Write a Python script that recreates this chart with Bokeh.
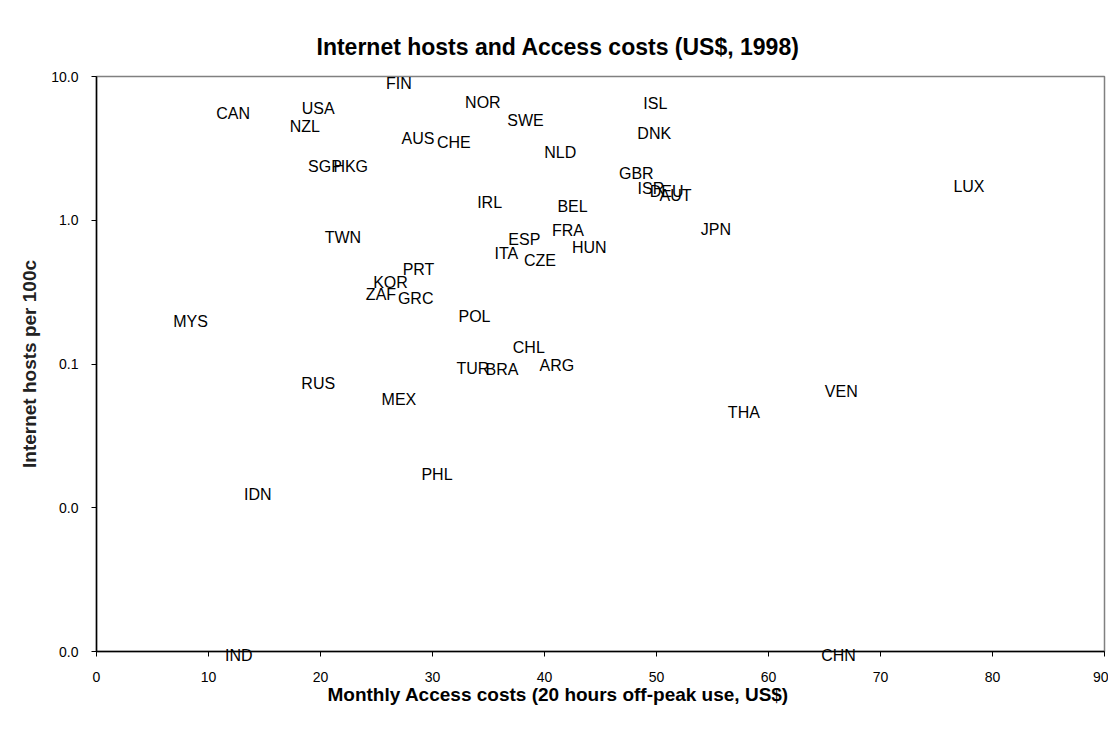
from bokeh.plotting import figure
from bokeh.models import (ColumnDataSource, LabelSet, Range1d, FixedTicker,
                          CustomJSTickFormatter, LinearAxis, LogAxis, Title)
from bokeh.core.properties import value
from bokeh.embed import file_html
from bokeh.resources import INLINE

countries = ["FIN", "CAN", "USA", "NZL", "SGP", "HKG", "AUS", "CHE", "NOR", "SWE",
             "ISL", "DNK", "NLD", "GBR", "ISR", "DEU", "AUT", "LUX", "IRL", "BEL",
             "JPN", "FRA", "HUN", "ESP", "ITA", "CZE", "TWN", "PRT", "KOR", "ZAF",
             "GRC", "MYS", "POL", "CHL", "ARG", "TUR", "BRA", "RUS", "MEX", "VEN",
             "THA", "PHL", "IDN", "IND", "CHN"]
access_cost = [27.0, 12.2, 19.8, 18.6, 20.4, 22.7, 28.7, 31.9, 34.5, 38.3,
               49.9, 49.8, 41.4, 48.2, 49.5, 50.9, 51.7, 77.9, 35.1, 42.5,
               55.3, 42.1, 44.0, 38.2, 36.6, 39.6, 22.0, 28.75, 26.25, 25.4,
               28.5, 8.4, 33.75, 38.6, 41.1, 33.6, 36.2, 19.8, 27.0, 66.5,
               57.8, 30.4, 14.4, 12.7, 66.25]
hosts_per_100 = [8.98, 5.55, 6.0, 4.51, 2.38, 2.38, 3.72, 3.49, 6.62, 4.97,
                 6.52, 4.03, 2.97, 2.12, 1.67, 1.59, 1.49, 1.72, 1.33, 1.25,
                 0.866, 0.85, 0.65, 0.738, 0.589, 0.527, 0.761, 0.456, 0.37, 0.305,
                 0.286, 0.198, 0.215, 0.131, 0.098, 0.093, 0.092, 0.073, 0.0568, 0.0646,
                 0.0461, 0.0171, 0.0124, 0.00094, 0.00094]
x_ticks = [0, 10, 20, 30, 40, 50, 60, 70, 80, 90]
y_ticks = [0.001, 0.01, 0.1, 1, 10]
y_min, y_max = 0.001, 10

FONT = "Liberation Sans"

inside = [i for i, v in enumerate(hosts_per_100) if v >= y_min]
below_axis = [i for i, v in enumerate(hosts_per_100) if v < y_min]

src = ColumnDataSource(dict(x=[access_cost[i] for i in inside],
                            y=[hosts_per_100[i] for i in inside],
                            name=[countries[i] for i in inside]))

p = figure(width=1108, height=728, y_axis_type="log",
           x_axis_location=None, y_axis_location=None,
           x_range=Range1d(0, 90), y_range=Range1d(y_min, y_max),
           output_backend="svg", toolbar_location=None,
           min_border_left=96, min_border_right=4,
           min_border_top=76, min_border_bottom=77)
p.title = None
p.outline_line_color = "#808080"
p.outline_line_width = 1.5
p.grid.visible = False
p.background_fill_color = "white"
p.border_fill_color = "white"

xaxis = LinearAxis(ticker=FixedTicker(ticks=x_ticks, minor_ticks=[]),
                   major_label_standoff=15)
yaxis = LogAxis(ticker=FixedTicker(ticks=y_ticks, minor_ticks=[]),
                formatter=CustomJSTickFormatter(code="return tick.toFixed(1);"),
                major_label_standoff=13,
                axis_label="Internet hosts per 100c",
                axis_label_standoff=8)

for ax in (xaxis, yaxis):
    ax.axis_line_color = "black"
    ax.axis_line_width = 1.5
    ax.major_tick_line_color = "black"
    ax.major_tick_out = 5
    ax.major_tick_in = 0
    ax.minor_tick_line_color = None
    ax.major_label_text_font = FONT
    ax.major_label_text_font_size = "14px"
    ax.major_label_text_color = "black"
    ax.axis_label_text_font = FONT
    ax.axis_label_text_font_style = "bold"

yaxis.axis_label_text_font_size = "19px"
yaxis.axis_label_text_color = "#222222"

p.add_layout(xaxis, "below")
p.add_layout(yaxis, "left")

# labels of the countries whose value lies below the axis minimum (drawn on the axis line)
low_axis = LinearAxis(
    ticker=FixedTicker(ticks=[access_cost[i] for i in below_axis], minor_ticks=[]),
    formatter=CustomJSTickFormatter(
        args=dict(xs=[access_cost[i] for i in below_axis],
                  names=[countries[i] for i in below_axis]),
        code="const k = xs.findIndex(v => Math.abs(v - tick) < 1e-6); return k >= 0 ? names[k] : '';"),
    axis_line_color=None, major_tick_line_color=None, minor_tick_line_color=None,
    major_tick_out=0, major_tick_in=0,
    major_label_standoff=-38,
    major_label_text_font=FONT, major_label_text_font_size="16px",
    major_label_text_color="black")
p.add_layout(low_axis, "below")

title = Title(text="Internet hosts and Access costs (US$, 1998)", align="left",
              offset=220, text_font=FONT, text_font_size="23px",
              text_font_style="bold", text_color="black", standoff=34)
p.add_layout(title, "above")

xlabel = Title(text="Monthly Access costs (20 hours off-peak use, US$)", align="left",
               offset=231, text_font=FONT, text_font_size="19px",
               text_font_style="bold", text_color="black", standoff=-5)
p.add_layout(xlabel, "below")

labels = LabelSet(x="x", y="y", text="name", source=src,
                  text_align="center", text_baseline="middle",
                  text_font=value(FONT), text_font_size="16px",
                  text_color="black", level="overlay")
p.add_layout(labels)

open("out.html", "w").write(file_html(p, INLINE))
